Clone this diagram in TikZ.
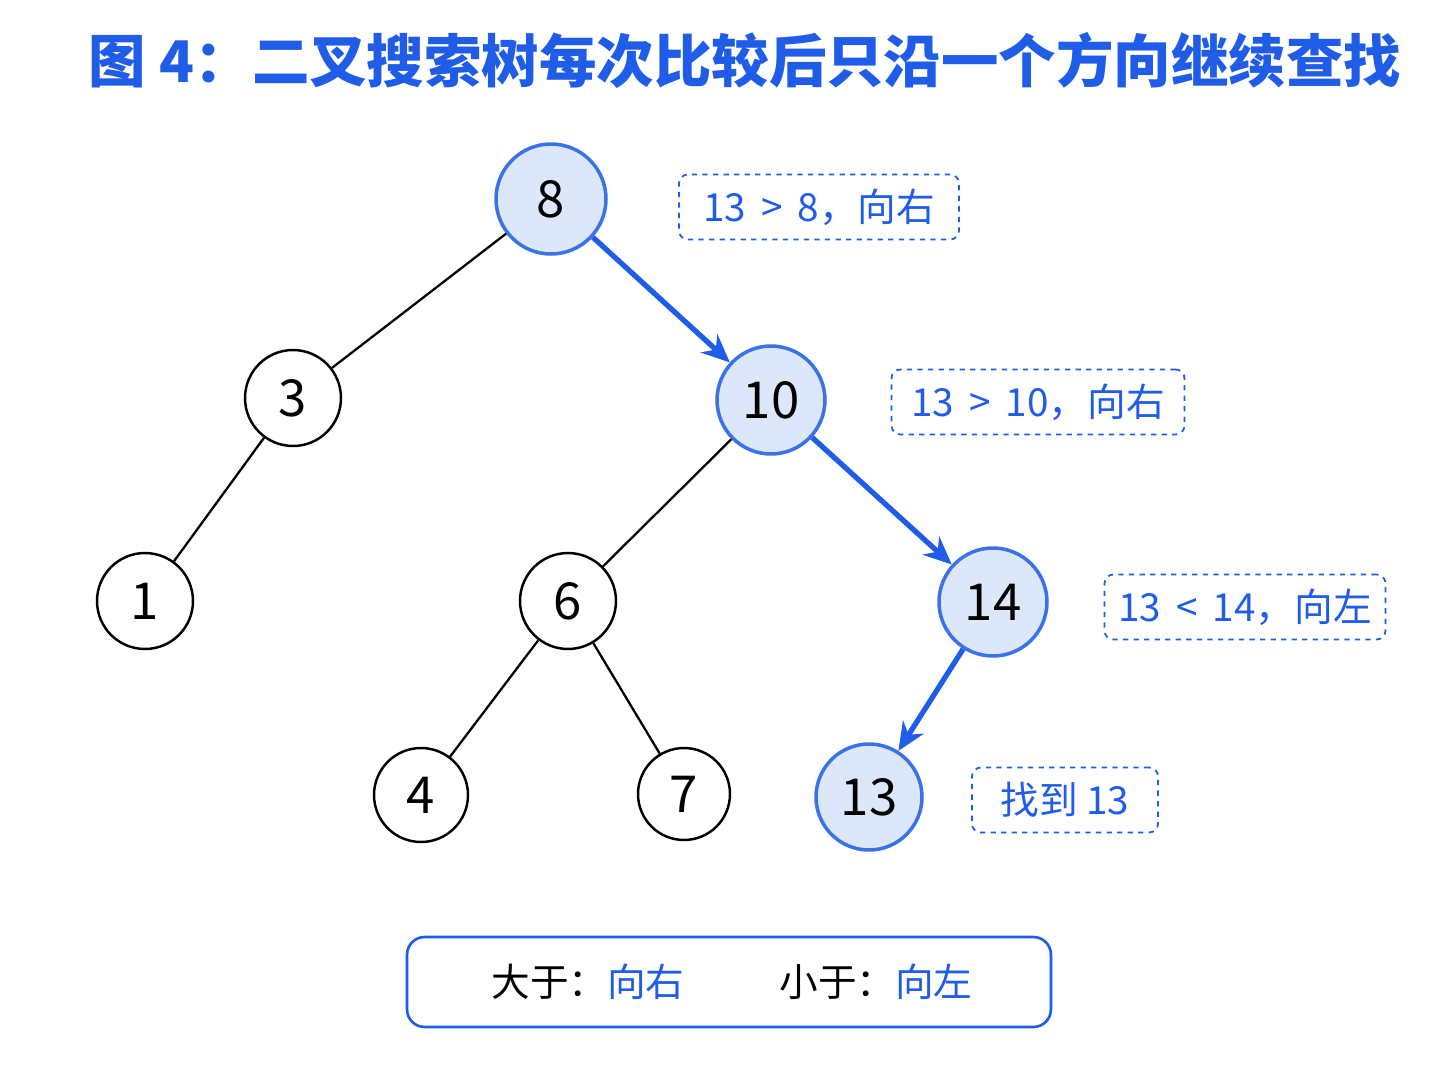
\documentclass[tikz,border=0pt]{standalone}
\usepackage{fontspec}
\setmainfont{Noto Sans CJK SC}
\usetikzlibrary{arrows.meta}
\definecolor{bl}{HTML}{1F5CE8}
\definecolor{lf}{HTML}{DCE8FA}
\definecolor{bd}{HTML}{3A72E8}
\begin{document}
\begin{tikzpicture}[x=0.02cm,y=-0.02cm,
  nd/.style={circle,draw=black,line width=1.4pt,fill=white,inner sep=0pt,font=\fontsize{29}{30}\selectfont},
  hl/.style={nd,draw=bd,fill=lf,line width=2pt},
  ed/.style={line width=1.3pt},
  pa/.style={line width=3pt,draw=bl,-{Stealth[length=16pt,width=14pt]}},
  lab/.style={draw=bl,dashed,rounded corners=5pt,line width=1pt,text=bl,font=\fontsize{22}{24}\selectfont,minimum height=1.3cm,inner xsep=6pt}]
\useasboundingbox (0,0) rectangle (1448,1086);
\node[text=bl,font=\fontsize{32.7}{36}\selectfont\bfseries] (title) at (745,60) {图 4：二叉搜索树每次比较后只沿一个方向继续查找};
\node[hl,minimum size=2.2cm] (n8) at (551,199) {8};
\node[nd,minimum size=1.92cm] (n3) at (293,398) {3};
\node[hl,minimum size=2.16cm] (n10) at (771,400) {10};
\node[nd,minimum size=1.92cm] (n1) at (145,601) {1};
\node[nd,minimum size=1.92cm] (n6) at (568,601) {6};
\node[hl,minimum size=2.16cm] (n14) at (993,602) {14};
\node[nd,minimum size=1.88cm] (n4) at (421,795) {4};
\node[nd,minimum size=1.84cm] (n7) at (684,794) {7};
\node[hl,minimum size=2.12cm] (n13) at (869,797) {13};
\draw[ed] (n8)--(n3); \draw[ed] (n3)--(n1); \draw[ed] (n10)--(n6);
\draw[ed] (n6)--(n4); \draw[ed] (n6)--(n7);
\draw[pa] (n8)--(n10); \draw[pa] (n10)--(n14); \draw[pa] (n14)--(n13);
\node[lab,minimum width=5.6cm] (l1) at (819,207) {13 \,>\, 8，向右};
\node[lab,minimum width=5.86cm] (l2) at (1038,402) {13 \,>\, 10，向右};
\node[lab,minimum width=5.62cm] (l3) at (1245,607) {13 \,<\, 14，向左};
\node[lab,minimum width=3.72cm] (l4) at (1065,800) {找到 13};
\node[draw=bl,rounded corners=10pt,line width=1.5pt,minimum width=12.88cm,minimum height=1.8cm] (leg) at (729,982) {};
\node[font=\fontsize{22}{24}\selectfont] (lg1) at (588,982) {大于：\textcolor{bl}{向右}};
\node[font=\fontsize{22}{24}\selectfont] (lg2) at (876,982) {小于：\textcolor{bl}{向左}};
\end{tikzpicture}
\end{document}
